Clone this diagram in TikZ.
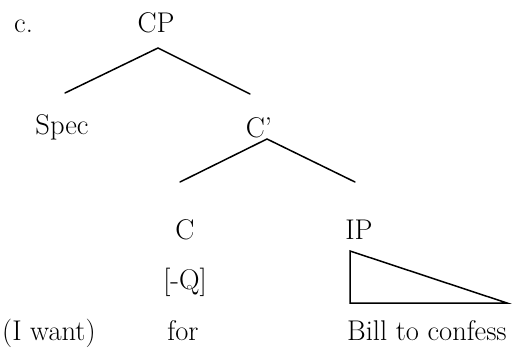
\documentclass[tikz,border=0pt]{standalone}
\usepackage{fontspec}
\begin{document}
\begin{tikzpicture}[x=1pt,y=-1pt,
  lbl/.style={anchor=base,inner sep=0pt,font=\fontsize{28.5}{32}\selectfont},
  branch/.style={line width=1.5pt,line cap=round},
  tri/.style={line width=1.5pt,line join=miter}]
\useasboundingbox (0,0) rectangle (517,353);
\node[lbl,anchor=base west] (ex) at (14,33) {c.};
\node[lbl] (cp) at (156,33) {CP};
\node[lbl] (spec) at (62,135) {Spec};
\node[lbl] (cbar) at (259,137) {C'};
\node[lbl] (c) at (185,239) {C};
\node[lbl] (ip) at (359,239) {IP};
\node[lbl] (q) at (185,289) {[-Q]};
\node[lbl,anchor=base west] (iw) at (2,340) {(I want)};
\node[lbl] (for) at (183,340) {for};
\node[lbl,anchor=base west] (bill) at (347,340) {Bill to confess};
\coordinate (cpTop) at (158,48);
\coordinate (cpL) at (65,93);
\coordinate (cpR) at (250,94);
\coordinate (cbTop) at (267,139);
\coordinate (cbL) at (180,182);
\coordinate (cbR) at (355,182);
\coordinate (t1) at (350,251);
\coordinate (t2) at (350,303);
\coordinate (t3) at (507,303);
\draw[branch] (cpL) -- (cpTop) -- (cpR);
\draw[branch] (cbL) -- (cbTop) -- (cbR);
\draw[tri] (t1) -- (t2) -- (t3) -- cycle;
\end{tikzpicture}
\end{document}
